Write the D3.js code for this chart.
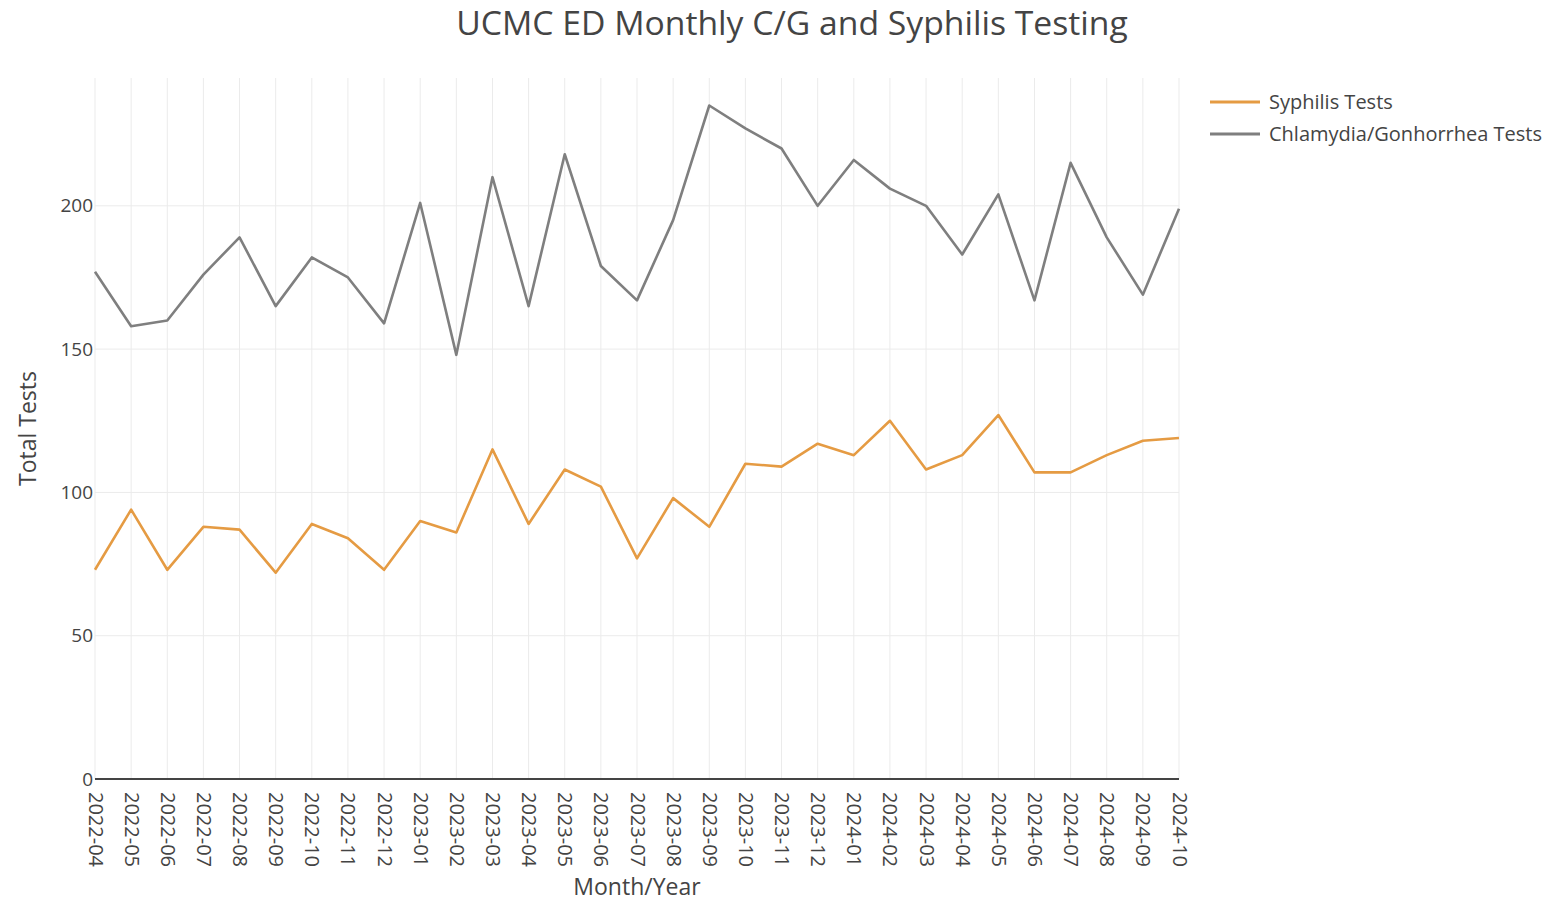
<!DOCTYPE html>
<html>
<head>
<meta charset="utf-8">
<script src="https://cdn.jsdelivr.net/npm/d3@7"></script>
<style>
  body { margin: 0; background: #fff; }
  svg { font-family: "Open Sans", sans-serif; }
</style>
</head>
<body>
<svg id="chart"></svg>
<script>
const months = ["2022-04","2022-05","2022-06","2022-07","2022-08","2022-09","2022-10","2022-11","2022-12",
  "2023-01","2023-02","2023-03","2023-04","2023-05","2023-06","2023-07","2023-08","2023-09","2023-10","2023-11","2023-12",
  "2024-01","2024-02","2024-03","2024-04","2024-05","2024-06","2024-07","2024-08","2024-09","2024-10"];

const syphilis = [73,94,73,88,87,72,89,84,73,90,86,115,89,108,102,77,98,88,110,109,117,113,125,108,113,127,107,107,113,118,119];
const chlamGon = [177,158,160,176,189,165,182,175,159,201,148,210,165,218,179,167,195,235,227,220,200,216,206,200,183,204,167,215,189,169,199];

const yTicks = [0, 50, 100, 150, 200];

const series = [
  { name: "Syphilis Tests", values: syphilis, color: "#e59b43" },
  { name: "Chlamydia/Gonhorrhea Tests", values: chlamGon, color: "#7f7f7f" }
];

const width = 1553, height = 901;
const plotLeft = 95, plotRight = 1179, plotTop = 78, plotBottom = 779;

const svg = d3.select("#chart").attr("width", width).attr("height", height);

const x = d3.scalePoint().domain(months).range([plotLeft, plotRight]);
const y = d3.scaleLinear().domain([0, 244.6]).range([plotBottom, plotTop]);

// grille verticale
svg.append("g")
  .selectAll("line")
  .data(months)
  .join("line")
  .attr("x1", d => x(d)).attr("x2", d => x(d))
  .attr("y1", plotTop).attr("y2", plotBottom)
  .attr("stroke", "#ebebeb").attr("stroke-width", 1);

// grille horizontale
svg.append("g")
  .selectAll("line")
  .data(yTicks.filter(t => t > 0))
  .join("line")
  .attr("x1", plotLeft).attr("x2", plotRight)
  .attr("y1", d => y(d)).attr("y2", d => y(d))
  .attr("stroke", "#ebebeb").attr("stroke-width", 1);

// axe y
const yAxis = svg.append("g")
  .attr("transform", `translate(${plotLeft},0)`)
  .call(d3.axisLeft(y).tickValues(yTicks).tickSize(0).tickPadding(2));
yAxis.select(".domain").remove();
yAxis.selectAll("text").attr("font-size", 19).attr("font-family", "Open Sans").attr("fill", "#444");

// axe x
const xAxis = svg.append("g")
  .attr("transform", `translate(0,${plotBottom})`)
  .call(d3.axisBottom(x).tickSize(0));
xAxis.select(".domain").remove();
xAxis.selectAll("text")
  .attr("font-size", 20).attr("font-family", "Open Sans").attr("fill", "#444")
  .attr("transform", "rotate(90)")
  .attr("text-anchor", "start")
  .attr("x", 13).attr("y", 0).attr("dy", "0.35em");

// ligne zéro
svg.append("line")
  .attr("x1", plotLeft).attr("x2", plotRight)
  .attr("y1", y(0)).attr("y2", y(0))
  .attr("stroke", "#444").attr("stroke-width", 2);

// courbes
const line = d3.line()
  .x((d, i) => x(months[i]))
  .y(d => y(d));

svg.append("g")
  .selectAll("path")
  .data(series.slice().reverse())
  .join("path")
  .attr("d", d => line(d.values))
  .attr("fill", "none")
  .attr("stroke", d => d.color)
  .attr("stroke-width", 2.6)
  .attr("stroke-linejoin", "round");

// titres
svg.append("text")
  .text("UCMC ED Monthly C/G and Syphilis Testing")
  .attr("x", 792).attr("y", 35)
  .attr("text-anchor", "middle")
  .attr("font-size", 33.7)
  .attr("fill", "#444");

svg.append("text")
  .text("Month/Year")
  .attr("x", (plotLeft + plotRight) / 2).attr("y", 895)
  .attr("text-anchor", "middle")
  .attr("font-size", 23)
  .attr("fill", "#444");

svg.append("text")
  .text("Total Tests")
  .attr("transform", `translate(36,${(plotTop + plotBottom) / 2}) rotate(-90)`)
  .attr("text-anchor", "middle")
  .attr("font-size", 23)
  .attr("fill", "#444");

// légende
const legend = svg.append("g").attr("transform", "translate(1210,102)");
series.forEach((s, i) => {
  const g = legend.append("g").attr("transform", `translate(0,${i * 32})`);
  g.append("line").attr("x1", 0).attr("x2", 50).attr("y1", 0).attr("y2", 0)
    .attr("stroke", s.color).attr("stroke-width", 3);
  g.append("text").text(s.name)
    .attr("x", 59).attr("y", 0).attr("dy", "0.35em")
    .attr("font-size", 20).attr("fill", "#444");
});
</script>
</body>
</html>
